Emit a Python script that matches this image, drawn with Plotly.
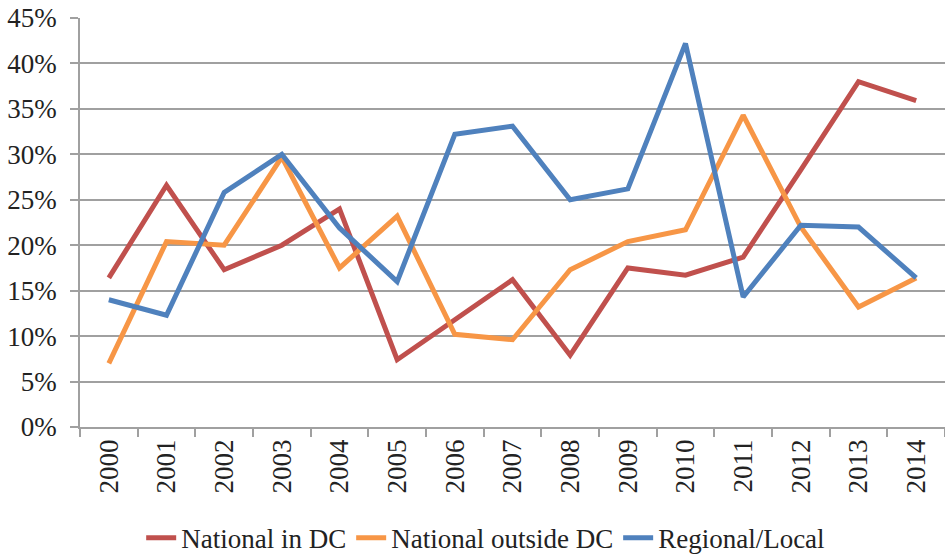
import plotly.graph_objects as go

years = [str(y) for y in range(2000, 2015)]
national_in_dc = [16.4, 26.6, 17.3, 20.0, 24.0, 7.4, 11.8, 16.2, 7.9, 17.5, 16.7, 18.7, 28.3, 38.0, 35.9]
national_outside_dc = [7.0, 20.4, 20.0, 29.7, 17.5, 23.2, 10.2, 9.6, 17.3, 20.4, 21.7, 34.3, 22.0, 13.2, 16.4]
regional_local = [14.0, 12.3, 25.8, 30.0, 21.9, 16.0, 32.2, 33.1, 25.0, 26.2, 42.2, 14.3, 22.2, 22.0, 16.4]

series = [
    ("National in DC", national_in_dc, "#C0504D"),
    ("National outside DC", national_outside_dc, "#F79646"),
    ("Regional/Local", regional_local, "#4F81BD"),
]

fig = go.Figure()
for name, vals, color in series:
    fig.add_trace(go.Scatter(x=years, y=vals, name=name, mode="lines",
                             line=dict(color=color, width=5)))

font = '"Liberation Serif", "Times New Roman", Times, serif'
fig.update_layout(
    width=945, height=556,
    margin=dict(l=80, r=0, t=18, b=129, autoexpand=False),
    paper_bgcolor="white", plot_bgcolor="white",
    font=dict(family=font, size=27, color="#222222"),
    showlegend=True,
    legend=dict(orientation="h", x=0.469, xanchor="center", y=-0.272, yanchor="middle",
                font=dict(family=font, size=27, color="#222222")),
    xaxis=dict(type="category", tickangle=-90, tickson="boundaries",
               range=[-0.5, 14.5], automargin=False,
               ticks="outside", ticklen=8, tickcolor="#a0a0a0", tickwidth=1.5,
               showline=True, linecolor="#a0a0a0", linewidth=1.5,
               showgrid=False, tickfont=dict(family=font, size=27)),
    yaxis=dict(range=[0, 45], dtick=5, ticksuffix="%", automargin=False,
               ticks="outside", ticklen=8, tickcolor="#a0a0a0", tickwidth=1.5,
               ticklabelstandoff=8,
               showline=True, linecolor="#a0a0a0", linewidth=1.5,
               showgrid=True, gridcolor="#a0a0a0", gridwidth=1.5,
               zeroline=False, tickfont=dict(family=font, size=27)),
)

fig.write_html("out.html", config={"displayModeBar": False},
               post_script="document.body.style.margin='0';")
